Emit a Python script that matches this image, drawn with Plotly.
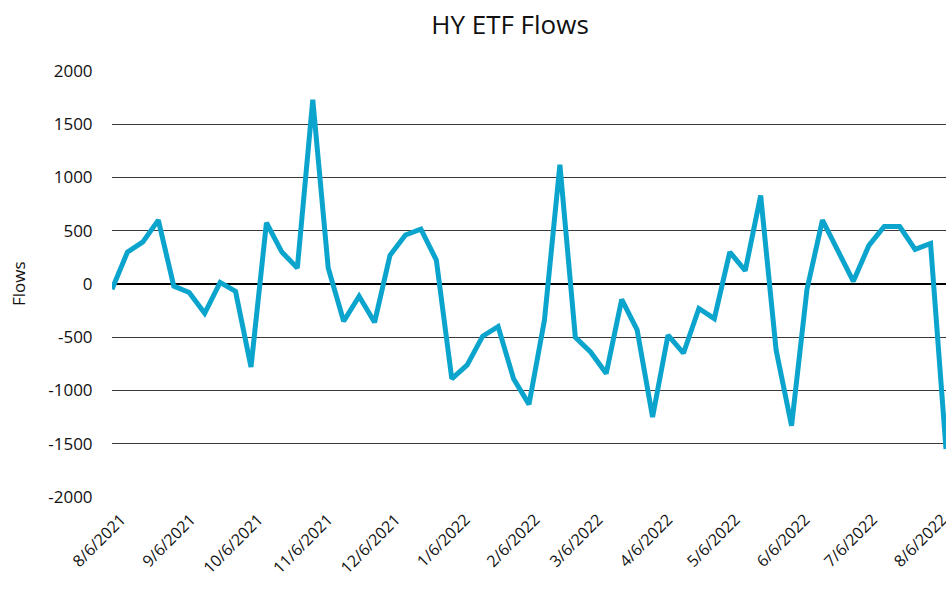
import plotly.graph_objects as go
from datetime import date

title_text = "HY ETF Flows"
y_title = "Flows"

# 55 observations spanning 8/6/2021 .. 8/6/2022
flows = [-50, 300, 395, 600, -20, -80, -275, 15, -70, -780,
         575, 300, 150, 1730, 150, -350, -115, -360, 270, 460,
         515, 225, -890, -760, -490, -400, -890, -1130, -340, 1120,
         -500, -640, -840, -145, -430, -1250, -480, -650, -230, -325,
         300, 125, 830, -620, -1330, -50, 600, 320, 25, 360,
         540, 540, 325, 380, -1550]

tick_dates = ["2021-08-06", "2021-09-06", "2021-10-06", "2021-11-06", "2021-12-06",
              "2022-01-06", "2022-02-06", "2022-03-06", "2022-04-06", "2022-05-06",
              "2022-06-06", "2022-07-06", "2022-08-06"]
tick_labels = ["8/6/2021", "9/6/2021", "10/6/2021", "11/6/2021", "12/6/2021",
               "1/6/2022", "2/6/2022", "3/6/2022", "4/6/2022", "5/6/2022",
               "6/6/2022", "7/6/2022", "8/6/2022"]
y_ticks = [2000, 1500, 1000, 500, 0, -500, -1000, -1500, -2000]
y_tick_text = ["2000", "1500", "1000", "500", "0", "-500", "-1000", "-1500", "-2000"]

FONT = "Open Sans"
VIEW_W, H = 946, 596
W = 952                      # slightly wider than the window: last label runs off the edge
ML, MT, MB = 112, 71, 99
n = len(flows)
px_per_idx = (VIEW_W - ML) / (n - 1)
range_end = (W - ML) / px_per_idx

start = date(2021, 8, 6)
label_offset_px = 9
day_px = 2.25
x_idx = list(range(n))
tick_pos = [(label_offset_px + (date.fromisoformat(d) - start).days * day_px) / px_per_idx
            for d in tick_dates]

fig = go.Figure()
fig.add_trace(go.Scatter(
    x=x_idx, y=flows, mode="lines",
    line=dict(color="#0ba4cd", width=5),
    hoverinfo="skip", showlegend=False, cliponaxis=False,
))

fig.update_layout(
    width=W, height=H,
    margin=dict(l=ML, r=0, t=MT, b=MB, autoexpand=False),
    paper_bgcolor="white", plot_bgcolor="white",
    font=dict(family=FONT, size=17, color="#111"),
    title=dict(text=title_text, x=510 / W, xanchor="center", xref="container",
               y=1 - 25 / H, yanchor="middle",
               font=dict(family=FONT, size=26, color="#111")),
    xaxis=dict(
        range=[0, range_end], tickmode="array", tickvals=tick_pos, ticktext=tick_labels,
        tickangle=-45, showgrid=False, zeroline=False, showline=False,
        ticks="outside", ticklen=6, tickcolor="rgba(0,0,0,0)",
        ticklabeloverflow="allow",
        tickfont=dict(size=16), fixedrange=True, automargin=False,
    ),
    yaxis=dict(
        range=[-2000, 2000], tickmode="array", tickvals=y_ticks, ticktext=y_tick_text,
        showgrid=True, gridcolor="#3a3a3a", gridwidth=1,
        zeroline=True, zerolinecolor="#000", zerolinewidth=2.5,
        showline=False, ticks="outside", ticklen=15, tickcolor="rgba(0,0,0,0)",
        fixedrange=True, automargin=False,
    ),
    annotations=[dict(
        text=y_title, xref="paper", yref="paper",
        x=(18 - ML) / (W - ML), y=0.5, xanchor="center", yanchor="middle",
        textangle=-90, showarrow=False, font=dict(size=17, color="#111"),
    )],
)

fig.write_html(
    "out.html",
    config={"displayModeBar": False, "staticPlot": True},
    post_script="document.body.style.margin='0';document.body.style.overflow='hidden';",
)
